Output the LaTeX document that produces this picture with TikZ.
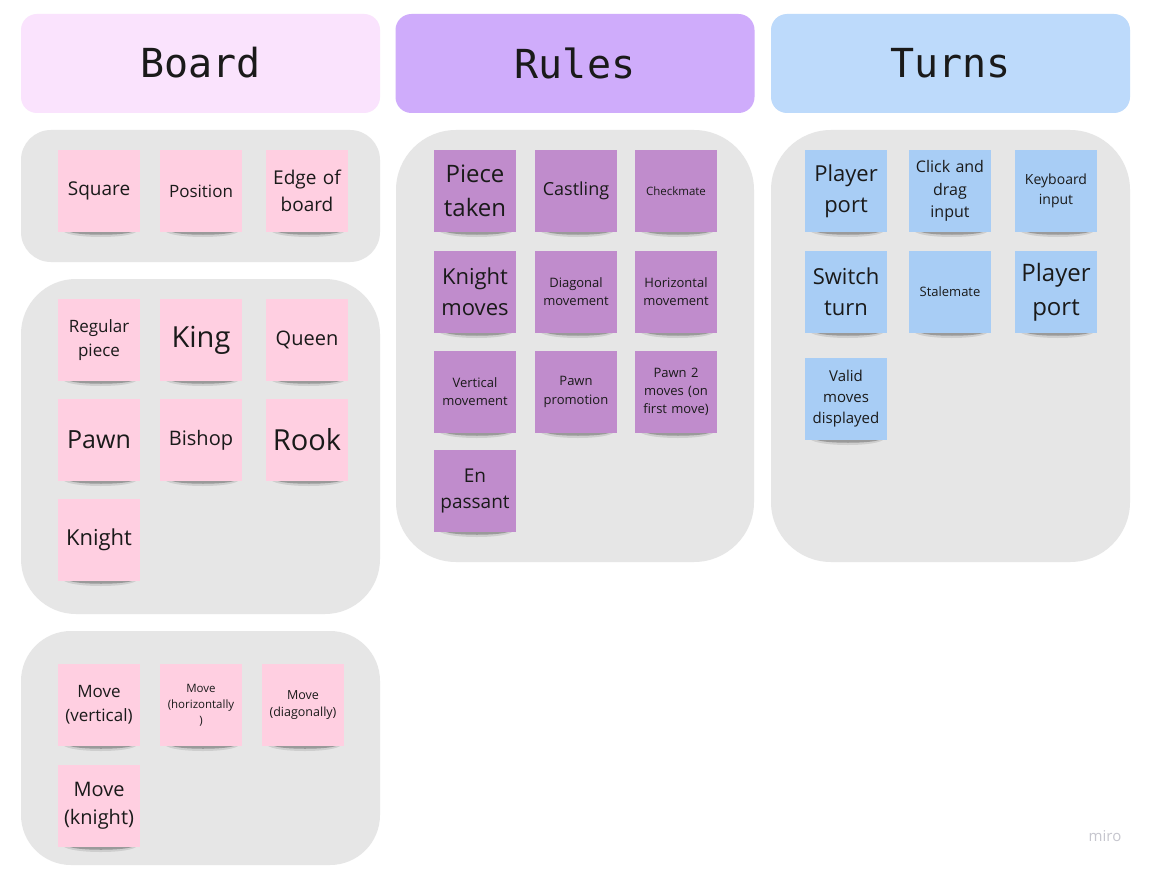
\documentclass[tikz,border=0pt]{standalone}
\usepackage{fontspec}
\setmainfont{Open Sans}
\newfontfamily\hdfont{DejaVu Sans Mono}
\definecolor{hdboard}{HTML}{FAE3FD}
\definecolor{hdrules}{HTML}{CFACFB}
\definecolor{hdturns}{HTML}{BDDAFB}
\definecolor{grpbg}{HTML}{E6E6E6}
\definecolor{pinkst}{HTML}{FFCFE1}
\definecolor{purpst}{HTML}{C08CCC}
\definecolor{bluest}{HTML}{A8CDF5}
\definecolor{inktext}{HTML}{1A1A1A}
\definecolor{mirogray}{HTML}{C6C6CE}
\newcommand\stk[6]{%
  \fill[black,opacity=0.10] (#2+5,#3+81) -- (#2+79,#3+81) .. controls (#2+74,#3+89) and (#2+12,#3+89) .. (#2+5,#3+81) -- cycle;
  \fill[black,opacity=0.25] (#2+10,#3+81) -- (#2+76,#3+81) .. controls (#2+70,#3+86) and (#2+16,#3+86) .. (#2+10,#3+81) -- cycle;
  \node[sticky,#4,font=\fontsize{#5}{\fpeval{1.4*#5}}\selectfont] (#1) at (#2+41,#3+41) {#6};%
}
\begin{document}
\begin{tikzpicture}[x=1pt,y=-1pt,
  header/.style={rounded corners=16pt, minimum width=359pt, minimum height=99pt, inner sep=0pt, text=inktext, font=\hdfont\fontsize{40}{48}\selectfont},
  group/.style={fill=grpbg, inner sep=0pt},
  sticky/.style={minimum width=82pt, minimum height=82pt, inner sep=0pt, text width=80pt, align=center, text=inktext},
  pk/.style={fill=pinkst},
  pu/.style={fill=purpst},
  bl/.style={fill=bluest}]
\useasboundingbox (0,0) rectangle (1150,869);
\fill[white] (0,0) rectangle (1150,869);
% headers
\node[header, fill=hdboard] (hboard) at (200.5,63.5) {\raisebox{1.5pt}{Board}};
\node[header, fill=hdrules] (hrules) at (575,63.5) {\raisebox{1.5pt}{Rules}};
\node[header, fill=hdturns] (hturns) at (950.5,63.5) {\raisebox{1.5pt}{Turns}};
% groups
\node[group, rounded corners=30pt, minimum width=359pt, minimum height=132pt] (gb1) at (200.5,196) {};
\node[group, rounded corners=55pt, minimum width=359pt, minimum height=335pt] (gb2) at (200.5,446.5) {};
\node[group, rounded corners=50pt, minimum width=359pt, minimum height=234pt] (gb3) at (200.5,748) {};
\node[group, rounded corners=60pt, minimum width=358pt, minimum height=432pt] (gr) at (575,346) {};
\node[group, rounded corners=60pt, minimum width=359pt, minimum height=432pt] (gt) at (950.5,346) {};
% Board stickies
\stk{sq}{58}{150}{pk}{19}{Square}
\stk{pos}{160}{150}{pk}{17}{Position}
\stk{edge}{266}{150}{pk}{19}{Edge of\\board}
\stk{reg}{58}{299}{pk}{17}{Regular\\piece}
\stk{king}{160}{299}{pk}{29}{King}
\stk{queen}{266}{299}{pk}{20}{Queen}
\stk{pawn}{58}{399}{pk}{25}{Pawn}
\stk{bishop}{160}{399}{pk}{20}{Bishop}
\stk{rook}{266}{399}{pk}{29}{Rook}
\stk{knight}{58}{499}{pk}{22}{Knight}
\stk{mvv}{58}{664}{pk}{17}{Move\\(vertical)}
\stk{mvh}{160}{664}{pk}{11.5}{Move\\(horizontally\\)}
\stk{mvd}{262}{664}{pk}{12.5}{Move\\(diagonally)}
\stk{mvk}{58}{765}{pk}{20}{Move\\(knight)}
% Rules stickies
\stk{taken}{434}{150}{pu}{24}{Piece\\taken}
\stk{castle}{535}{150}{pu}{18}{Castling}
\stk{mate}{635}{150}{pu}{11.5}{Checkmate}
\stk{kmoves}{434}{251}{pu}{22}{Knight\\moves}
\stk{diag}{535}{251}{pu}{13}{Diagonal\\movement}
\stk{horiz}{635}{251}{pu}{13}{Horizontal\\movement}
\stk{vert}{434}{351}{pu}{13}{Vertical\\movement}
\stk{promo}{535}{351}{pu}{13}{Pawn\\promotion}
\stk{pawn2}{635}{351}{pu}{13}{Pawn 2\\moves (on\\first move)}
\stk{enp}{434}{450}{pu}{19}{En\\passant}
% Turns stickies
\stk{pp1}{805}{150}{bl}{22}{Player\\port}
\stk{click}{909}{150}{bl}{16}{Click and\\drag\\input}
\stk{keyb}{1015}{150}{bl}{14}{Keyboard\\input}
\stk{switch}{805}{251}{bl}{22}{Switch\\turn}
\stk{stale}{909}{251}{bl}{13}{Stalemate}
\stk{pp2}{1015}{251}{bl}{24}{Player\\port}
\stk{valid}{805}{358}{bl}{15}{Valid\\moves\\displayed}
% watermark
\node[text=mirogray, font=\fontsize{15}{18}\selectfont] (miro) at (1105,836) {miro};
\end{tikzpicture}
\end{document}
